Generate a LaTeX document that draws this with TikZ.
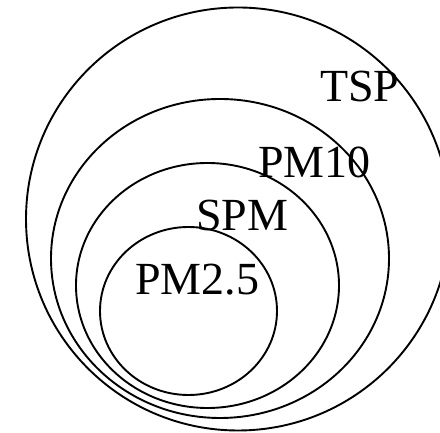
\documentclass[tikz,border=0pt]{standalone}
\usepackage{fontspec}
\setmainfont{Liberation Serif}
\begin{document}
\begin{tikzpicture}[x=1pt,y=1pt,
  ring/.style={draw=black,line width=1.9pt},
  lbl/.style={inner sep=0pt,anchor=base west,font=\fontsize{46}{50}\selectfont}]
\useasboundingbox (0,0) rectangle (440,433);
\fill[white] (0,0) rectangle (440,433);
\begin{scope}
\clip (0,0) rectangle (440,433);
\draw[ring] (238,214) ellipse [x radius=212, y radius=211.5];
\end{scope}
\draw[ring] (220,174.5) ellipse [x radius=169, y radius=159.5];
\draw[ring] (207.5,147.5) ellipse [x radius=131.5, y radius=122.5];
\draw[ring] (188.5,122) ellipse [x radius=88.5, y radius=84];
\node[lbl] (tsp) at (320,331) {TSP};
\node[lbl] (pm10) at (258,255) {PM10};
\node[lbl] (spm) at (196,202) {SPM};
\node[lbl] (pm25) at (135,138) {PM2.5};
\end{tikzpicture}
\end{document}
